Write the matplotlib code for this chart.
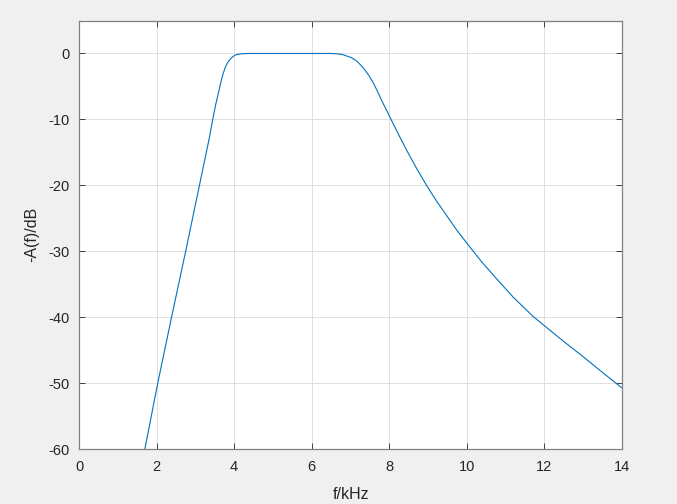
import numpy as np
import matplotlib
matplotlib.use("Agg")
import matplotlib.pyplot as plt

# Values (f in kHz, -A(f) in dB)
f_khz = [1.70, 2.03, 2.39, 2.75, 2.97, 3.13, 3.25, 3.35, 3.46, 3.53, 3.59,
         3.64, 3.68, 3.72, 3.76, 3.82, 3.88, 3.95, 4.02, 4.08, 4.15, 4.25,
         4.40, 5.00, 6.00, 6.47, 6.65, 6.78, 6.90, 7.03, 7.16, 7.27, 7.37,
         7.48, 7.59, 7.70, 7.80, 7.91, 8.02, 8.23, 8.45, 8.70, 8.96, 9.22,
         9.48, 9.74, 9.99, 10.38, 10.77, 11.20, 11.71, 12.00, 12.50, 13.00,
         13.50, 13.99]
atten_db = [-59.95, -50.0, -39.9, -30.0, -23.8, -19.3, -15.9, -13.1, -9.6,
            -7.6, -6.1, -4.8, -3.8, -3.0, -2.3, -1.5, -1.0, -0.55, -0.26,
            -0.15, -0.08, -0.03, 0.0, 0.0, 0.0, 0.0, -0.05, -0.15, -0.38,
            -0.65, -1.15, -1.8, -2.5, -3.4, -4.5, -5.8, -7.1, -8.4, -9.7,
            -12.2, -14.7, -17.4, -20.0, -22.4, -24.6, -26.8, -28.7, -31.6,
            -34.2, -37.0, -39.9, -41.3, -43.7, -46.0, -48.4, -50.7]

xticks = np.arange(0, 15, 2)
yticks = np.arange(-60, 1, 10)

plt.rcParams["font.family"] = ["Liberation Sans", "DejaVu Sans"]
plt.rcParams["axes.unicode_minus"] = False
txt = "#262626"

fig = plt.figure(figsize=(6.77, 5.04), dpi=100, facecolor="#f0f0f0")
ax = fig.add_axes([0.1167, 0.1091, 0.8021, 0.8502])
ax.plot(f_khz, atten_db, color="#0072BD", lw=0.8)

ax.set_xlim(0, 14)
ax.set_ylim(-60, 5)
ax.set_xticks(xticks)
ax.set_yticks(yticks)
ax.grid(True, color="#dfdfdf", lw=0.7)
ax.set_axisbelow(True)
ax.tick_params(direction="in", length=4, width=0.6, color=txt, labelsize=10.5,
               labelcolor=txt, top=True, right=True)
ax.tick_params(axis="x", pad=8)
ax.tick_params(axis="y", pad=7)
for sp in ax.spines.values():
    sp.set_color("#808080")
    sp.set_linewidth(0.9)

ax.set_xlabel("f/kHz", fontsize=11.5, color=txt, labelpad=9)
ax.set_ylabel("-A(f)/dB", fontsize=11.5, color=txt, labelpad=6)

fig.savefig("out.png", dpi=100, facecolor=fig.get_facecolor())
